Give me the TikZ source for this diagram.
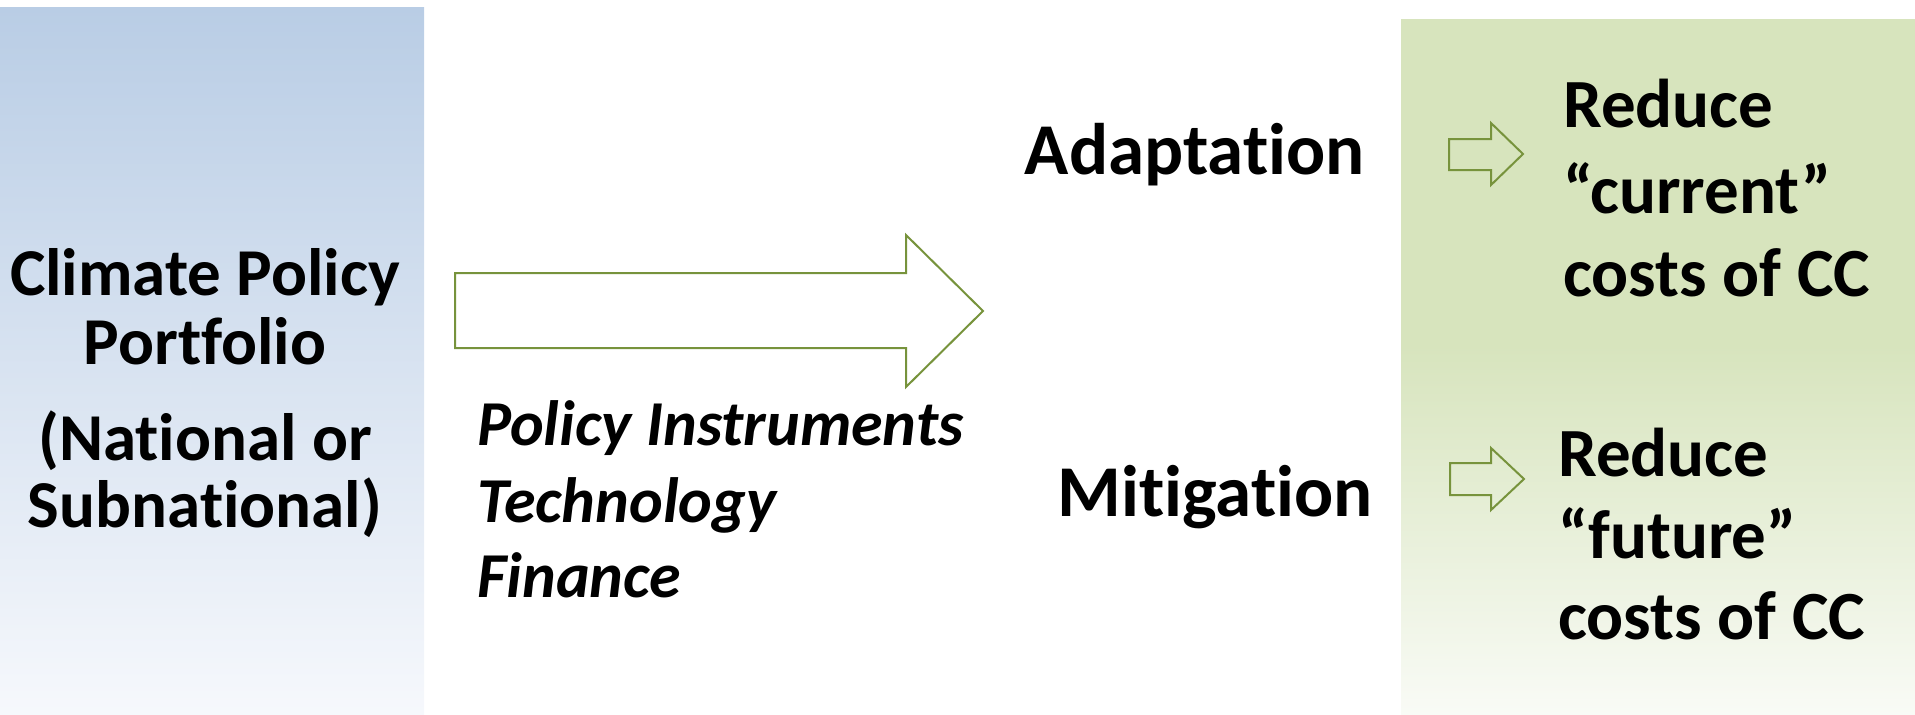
\documentclass[tikz,border=0pt]{standalone}
\usepackage{fontspec}
\setmainfont{Carlito}[Ligatures={TeX,NoCommon}]
\usepackage{tikz}

\definecolor{blueTop}{RGB}{185,205,229}
\definecolor{blueMid}{RGB}{208,221,238}
\definecolor{blueBot}{RGB}{246,248,252}
\definecolor{greenTop}{RGB}{215,228,189}
\definecolor{greenBot}{RGB}{249,251,246}
\definecolor{arrowGreen}{RGB}{119,147,60}

\begin{document}
\begin{tikzpicture}[x=1pt,y=-1pt,
    boldtxt/.style={font=\bfseries\fontsize{#1}{#1}\selectfont,inner sep=0pt},
    itltxt/.style={font=\bfseries\itshape\fontsize{64}{64}\selectfont,inner sep=0pt},
    blockarrow/.style={draw=arrowGreen,line width=2pt,line join=miter}]
      \useasboundingbox (0,0) rectangle (1915,715);
      % Fondos
      \shade[top color=blueTop,middle color=blueMid,bottom color=blueBot] (0,7) rectangle (424,715);
      \fill[greenTop] (1401,19) rectangle (1915,346);
      \shade[top color=greenTop,bottom color=greenBot] (1401,345) rectangle (1915,715);
      % Flechas
      \draw[blockarrow,fill=white] (455,273) -- (906,273) -- (906,235) -- (983,311)
            -- (906,387) -- (906,348) -- (455,348) -- cycle;
      \draw[blockarrow] (1449,139) -- (1491,139) -- (1491,123) -- (1523,154)
            -- (1491,185) -- (1491,170) -- (1449,170) -- cycle;
      \draw[blockarrow] (1450,463) -- (1491,463) -- (1491,448) -- (1524,479)
            -- (1491,510) -- (1491,495) -- (1450,495) -- cycle;
      % Portafolio
      \node[boldtxt=67,anchor=base] (cp) at (205,295) {Climate Policy};
      \node[boldtxt=67,anchor=base] (pf) at (205,364) {Portfolio};
      \node[boldtxt=67,anchor=base] (na) at (205,460) {(National or};
      \node[boldtxt=67,anchor=base] (sn) at (205,527) {Subnational)};
      % Instrumentos
      \node[itltxt,anchor=base west] (pi) at (477,445) {Policy Instruments};
      \node[itltxt,anchor=base west] (te) at (477,522) {Technology};
      \node[itltxt,anchor=base west] (fi) at (477,597) {Finance};
      % Respuestas
      \node[boldtxt=73,anchor=base east] (ad) at (1365,174) {Adaptation};
      \node[boldtxt=73,anchor=base east] (mi) at (1373,516) {Mitigation};
      % Costos
      \node[boldtxt=69,anchor=base west] (r1) at (1563,127) {Reduce};
      \node[boldtxt=69,anchor=base west] (c1) at (1563,213) {“current”};
      \node[boldtxt=69,anchor=base west] (k1) at (1563,296) {costs of CC};
      \node[boldtxt=69,anchor=base west] (r2) at (1558,476) {Reduce};
      \node[boldtxt=69,anchor=base west] (c2) at (1558,558) {“future”};
      \node[boldtxt=69,anchor=base west] (k2) at (1558,639) {costs of CC};
    \end{tikzpicture}
\end{document}
